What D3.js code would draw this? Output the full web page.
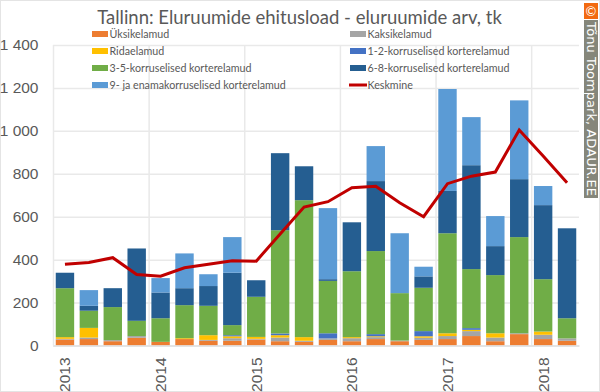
<!DOCTYPE html>
<html>
<head>
<meta charset="utf-8">
<title>Tallinn: Eluruumide ehitusload</title>
<script src="https://cdnjs.cloudflare.com/ajax/libs/d3/7.8.5/d3.min.js"></script>
<style>
  body { margin: 0; background: #fff; }
  svg { display: block; font-family: Lato, "Open Sans", sans-serif; }
  .grid line { stroke: #e9e9e9; stroke-width: 1.5; }
  .grid path { display: none; }
  .y-axis path, .y-axis line, .x-axis line { display: none; }
  .x-axis path { stroke: #e0e0e0; stroke-width: 1.5; }
  .y-axis text, .x-axis text { fill: #595959; font-size: 15.5px; }
</style>
</head>
<body>
<script>
var width = 600, height = 392;

var periods = ["2013","2013b","2013c","2013d","2014","2014b","2014c","2014d","2015","2015b","2015c","2015d",
               "2016","2016b","2016c","2016d","2017","2017b","2017c","2017d","2018","2018b"];
var yearLabels = ["2013","2014","2015","2016","2017","2018"];
var yTicks = [0,200,400,600,800,1000,1200,1400];

var yksik   = [28,30,20,36,17,30,22,22,28,20,17,26,20,30,20,26,30,44,20,53,30,22];
var kaksik  = [3,7,5,8,0,0,4,12,3,17,5,7,14,9,3,10,14,23,17,4,20,11];
var rida    = [8,45,0,0,0,4,22,9,9,11,17,0,5,4,0,7,13,6,20,0,15,0];
var k12     = [0,0,0,0,0,0,0,5,0,8,0,24,0,10,0,24,0,8,0,0,0,0];
var k35     = [228,80,154,71,110,154,137,47,187,481,638,244,307,387,221,202,466,275,271,448,244,94];
var k68     = [72,23,88,337,120,79,92,244,77,359,158,8,228,326,0,53,197,484,135,270,345,419];
var k9      = [0,73,0,0,67,162,55,166,0,0,0,331,0,163,279,45,475,224,140,367,89,0];
var keskmine = [378,387,409,331,323,362,379,395,393,520,645,670,735,742,665,600,754,789,808,1004,883,758];

var seriesKeys = ["Üksikelamud","Kaksikelamud","Ridaelamud","1-2-korruselised korterelamud",
                  "3-5-korruselised korterelamud","6-8-korruselised korterelamud","9- ja enamakorruselised korterelamud"];
var seriesValues = [yksik,kaksik,rida,k12,k35,k68,k9];
var seriesColors = ["#ed7d31","#a5a5a5","#ffc000","#4472c4","#70ad47","#255e91","#5b9bd5"];
var lineColor = "#c00000";

var table = periods.map(function(p,i){
    var row = {period:p};
    seriesKeys.forEach(function(k,j){ row[k] = seriesValues[j][i]; });
    return row;
});

var plotLeft = 53, plotRight = 579, plotTop = 45, plotBottom = 345.5;

var svg = d3.select("body").append("svg")
    .attr("width",width).attr("height",height);

// outer frame of the picture
svg.append("rect").attr("x",0.5).attr("y",0.5)
    .attr("width",width-1).attr("height",height-1)
    .attr("fill","#fff").attr("stroke","#e4e4e4");

var x = d3.scaleBand().domain(periods).range([plotLeft,plotRight]).paddingInner(0.23).paddingOuter(0.115);
var y = d3.scaleLinear().domain([0,1400]).range([plotBottom,plotTop]);

// gridlines
svg.append("g").attr("class","grid")
    .attr("transform","translate("+plotLeft+",0)")
    .call(d3.axisLeft(y).tickValues(yTicks).tickSize(-(plotRight-plotLeft)).tickFormat(""));

var gridX = d3.scaleLinear().domain([0,periods.length]).range([plotLeft,plotRight]);
svg.append("g").attr("class","grid")
    .attr("transform","translate(0,"+plotBottom+")")
    .call(d3.axisBottom(gridX).tickValues(d3.range(0,periods.length+1,4)).tickSize(-(plotBottom-plotTop)).tickFormat(""));

// stacked bars
var stack = d3.stack().keys(seriesKeys)(table);
svg.append("g").selectAll("g").data(stack).enter().append("g")
    .attr("fill",function(d,i){ return seriesColors[i]; })
    .selectAll("rect").data(function(d){ return d; }).enter().append("rect")
    .attr("x",function(d){ return x(d.data.period); })
    .attr("y",function(d){ return y(d[1]); })
    .attr("width",x.bandwidth())
    .attr("height",function(d){ return y(d[0])-y(d[1]); });

// average line
var line = d3.line()
    .x(function(d,i){ return x(periods[i])+x.bandwidth()/2; })
    .y(function(d){ return y(d); });
svg.append("path").datum(keskmine)
    .attr("d",line).attr("fill","none")
    .attr("stroke",lineColor).attr("stroke-width",3);

// axes
var fmt = function(d){ return d3.format(",")(d).replace(/,/g," "); };
svg.append("g").attr("class","y-axis")
    .attr("transform","translate(38.5,0)")
    .call(d3.axisLeft(y).tickValues(yTicks).tickFormat(fmt).tickSize(0).tickPadding(0));

var xAxisG = svg.append("g").attr("class","x-axis")
    .attr("transform","translate(0,"+plotBottom+")")
    .call(d3.axisBottom(x).tickSize(0)
        .tickValues(yearLabels)
        .tickFormat(function(d){ return d; }));
xAxisG.selectAll("text")
    .attr("text-anchor","end")
    .attr("dy",null)
    .attr("transform","translate(0,12) rotate(-90)")
    .attr("x",0).attr("y",0)
    .attr("dominant-baseline","central");

// title
svg.append("text").attr("x",299.5).attr("y",24)
    .attr("text-anchor","middle").attr("fill","#595959")
    .style("font-size","18.5px")
    .text("Tallinn: Eluruumide ehitusload - eluruumide arv, tk");

// legend
var legendNames = seriesKeys.slice();
var legendOrder = [0,1,2,3,4,5,6,7];
var legendRows = [34,51,68,85];
var legendCols = [92,350];
var legend = svg.append("g").selectAll("g").data(legendOrder).enter().append("g")
    .attr("transform",function(d,i){
        return "translate("+legendCols[i%2]+","+legendRows[Math.floor(i/2)]+")";
    });
legend.each(function(d){
    var g = d3.select(this);
    if (d<7) {
        g.append("rect").attr("x",0).attr("y",-3).attr("width",16).attr("height",6)
            .attr("fill",seriesColors[d]);
    } else {
        g.append("line").attr("x1",-1).attr("x2",17).attr("y1",0).attr("y2",0)
            .attr("stroke",lineColor).attr("stroke-width",3);
    }
    g.append("text").attr("x",17.5).attr("y",4)
        .attr("fill","#595959").style("font-size","10.7px")
        .text(d<7 ? legendNames[d] : "Keskmine");
});

// side banner
var banner = svg.append("g");
banner.append("rect").attr("x",584).attr("y",3).attr("width",14).attr("height",16).attr("fill","#f26a10");
banner.append("rect").attr("x",584).attr("y",20).attr("width",14).attr("height",178).attr("fill","#85867a");
banner.append("text").attr("transform","translate(591,11)")
    .attr("text-anchor","middle").attr("dominant-baseline","central")
    .attr("fill","#fff").style("font-size","13px").text("©");
banner.append("text").attr("transform","translate(587,22) rotate(90)")
    .attr("fill","#fff").style("font-family","'DejaVu Sans'").style("font-size","13px")
    .attr("textLength",174)
    .text("Tõnu Toompark, ADAUR.EE");
</script>
</body>
</html>
